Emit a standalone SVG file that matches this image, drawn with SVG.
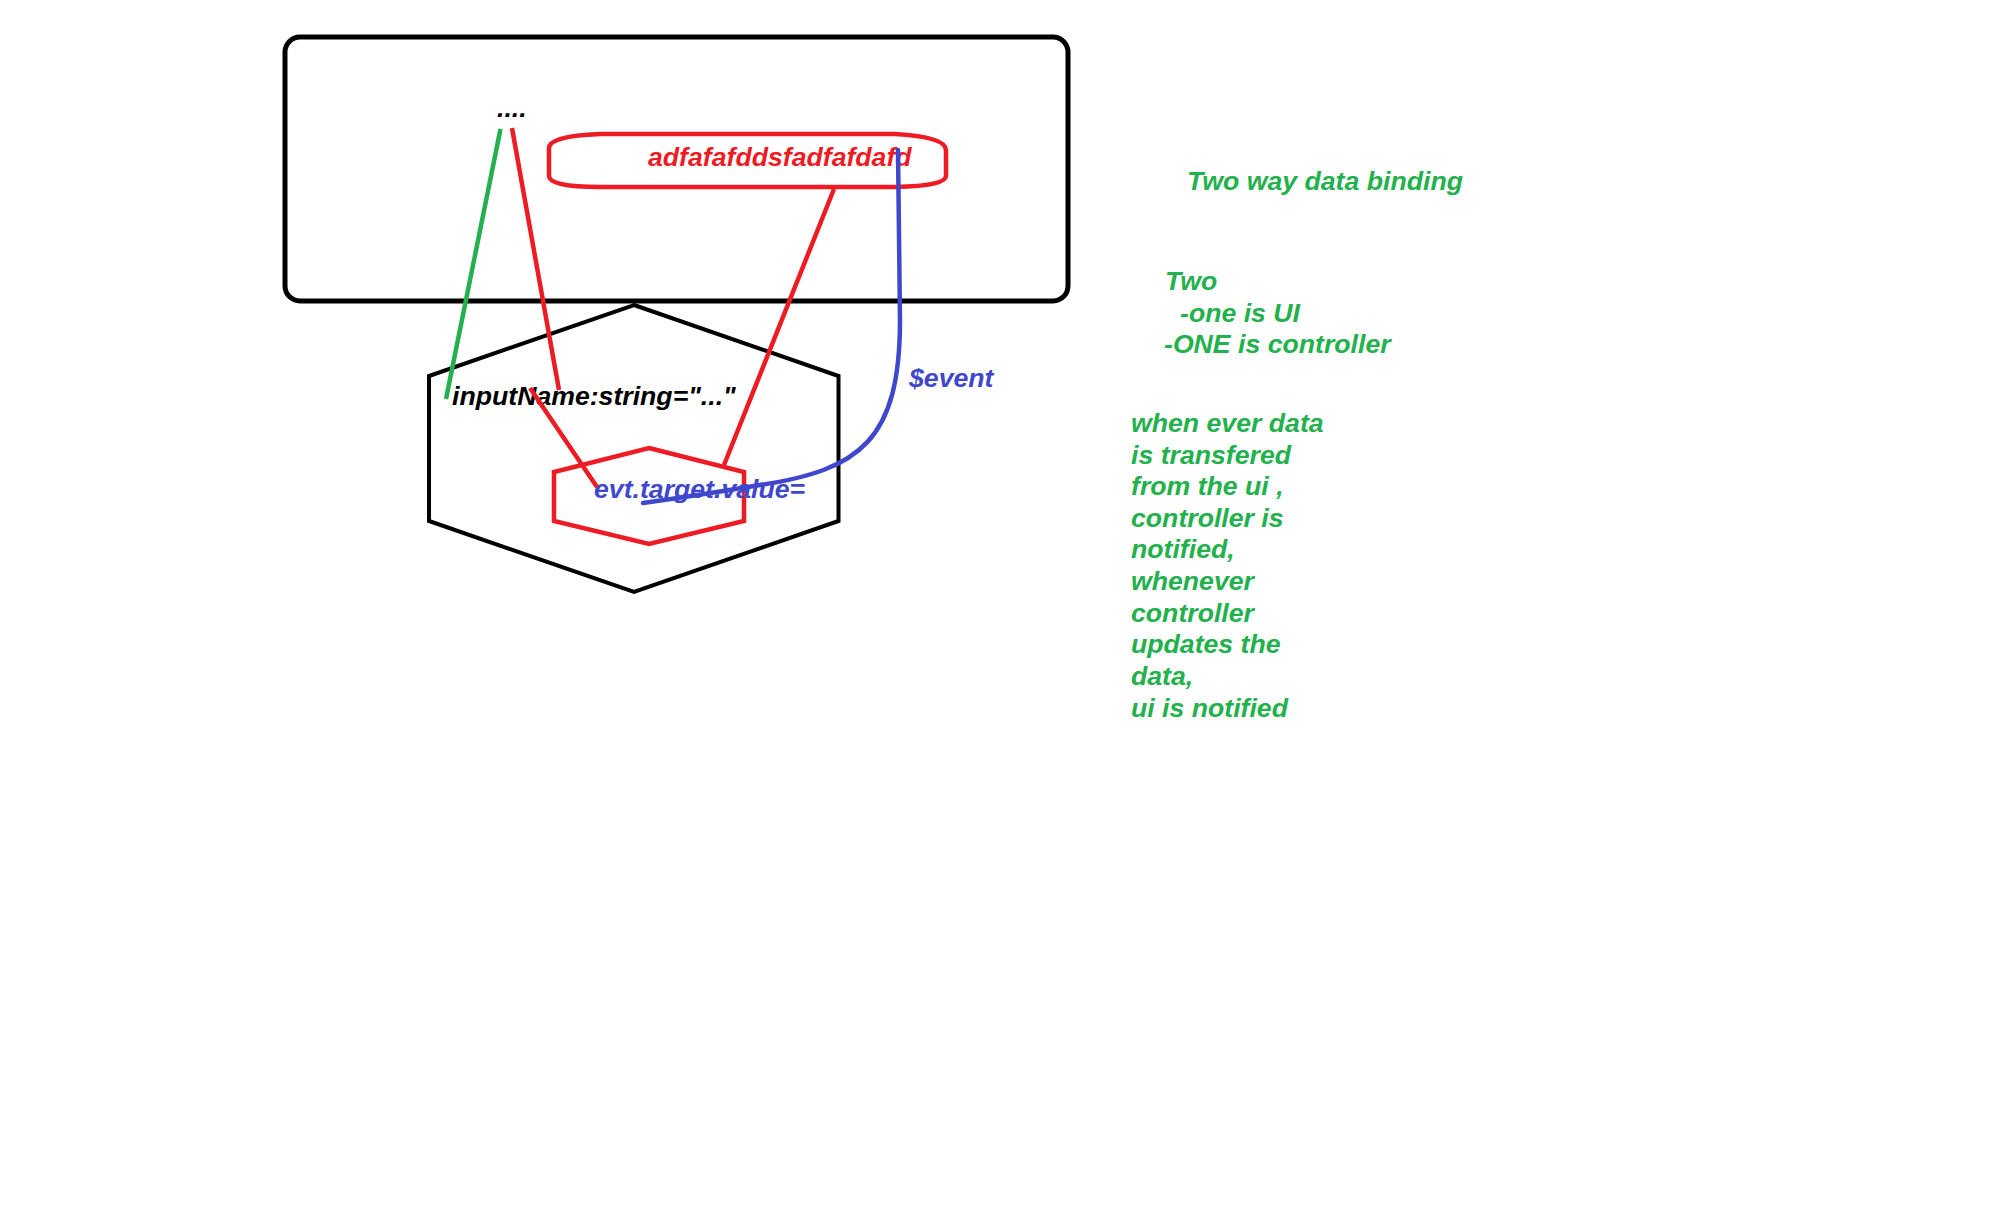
<svg xmlns="http://www.w3.org/2000/svg" width="1992" height="1227" viewBox="0 0 1992 1227">
<style>
text{font-family:"Liberation Sans",Arial,sans-serif;font-weight:bold;font-style:italic;font-size:26.67px}
.k{fill:#000}.r{fill:#ED1C24}.b{fill:#3F48CC}.g{fill:#22B14C}
.sk{fill:none;stroke:#000;stroke-width:4;stroke-linejoin:miter}
.sr{fill:none;stroke:#ED1C24;stroke-width:4.5}
.sb{fill:none;stroke:#3F48CC;stroke-width:4.5;stroke-linecap:round}
.sg{fill:none;stroke:#22B14C;stroke-width:4.5}
</style>
<rect width="1992" height="1227" fill="#fff"/>
<g id="component">
<rect class="sk" x="285" y="37" width="783" height="264" rx="15" style="stroke-width:5"/>
<text class="k" x="497" y="117">....</text>
</g>
<g id="bound-value">
<path class="sr" d="M549,148 Q549,136 600,134 L895,134 Q946,137 946,150 L946,176 Q946,186 895,187 L600,187 Q549,187 549,176 Z"/>
<text class="r" x="648" y="166">adfafafddsfadfafdafd</text>
</g>
<g id="template">
<polygon class="sk" points="634,305 838.5,376 838.5,521 634,592 429,521 429,376"/>
<text class="k" x="452" y="405">inputName:string="..."</text>
</g>
<g id="handler">
<polygon class="sr" points="649,448 744,472 744,521 649,544 554,521 554,472"/>
<text class="b" x="594" y="498">evt.target.value=</text>
</g>
<g id="connectors">
<line class="sg" x1="500.5" y1="129" x2="446" y2="399"/>
<line class="sr" x1="512" y1="128" x2="559" y2="390"/>
<line class="sr" x1="530" y1="388" x2="597" y2="487"/>
<line class="sr" x1="834" y1="189" x2="724" y2="465"/>
<path class="sb" d="M898,150 L900,320 C900,440 860,470 760,485 Q700,495 643,503"/>
<text class="b" x="909" y="387">$event</text>
</g>
<g id="notes">
<text class="g" x="1187" y="190">Two way data binding</text>
<text class="g" x="1165" y="290">Two</text>
<text class="g" x="1180" y="322">-one is UI</text>
<text class="g" x="1164" y="353">-ONE is controller</text>
<text class="g" x="1131" y="432">when ever data</text>
<text class="g" x="1131" y="464">is transfered</text>
<text class="g" x="1131" y="495">from the ui ,</text>
<text class="g" x="1131" y="527">controller is</text>
<text class="g" x="1131" y="558">notified,</text>
<text class="g" x="1131" y="590">whenever</text>
<text class="g" x="1131" y="622">controller</text>
<text class="g" x="1131" y="653">updates the</text>
<text class="g" x="1131" y="685">data,</text>
<text class="g" x="1131" y="717">ui is notified</text>
</g>
</svg>
